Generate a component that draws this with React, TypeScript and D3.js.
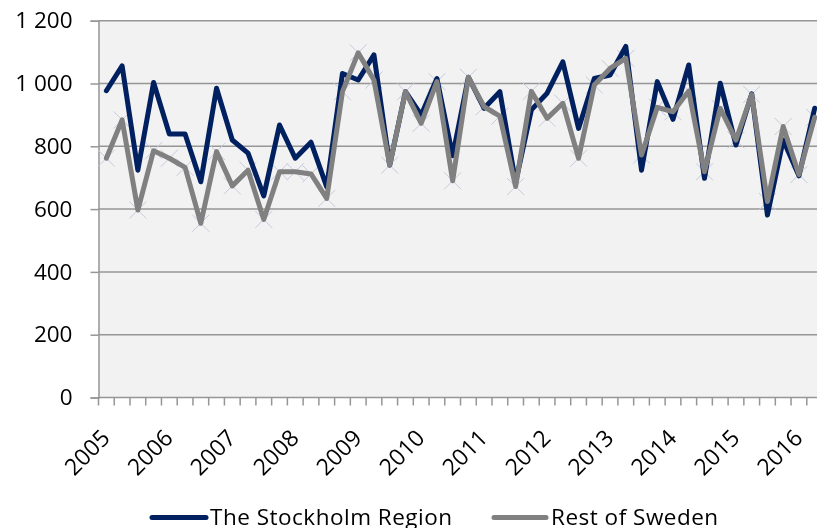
import { useRef, useEffect } from 'react'
import * as d3 from 'd3'

const years = ['2005', '2006', '2007', '2008', '2009', '2010', '2011', '2012', '2013', '2014', '2015', '2016']
const quarters = ['Q1', 'Q2', 'Q3', 'Q4']
const periodCount = 46

const stockholm = [
  977, 1056, 724, 1003, 839, 839, 687, 985, 820, 778, 642, 868,
  762, 813, 671, 1032, 1011, 1091, 740, 974, 900, 1016, 770, 1020,
  921, 974, 685, 916, 969, 1069, 857, 1016, 1027, 1118, 724, 1006,
  886, 1059, 698, 1001, 804, 967, 581, 820, 706, 921,
]
const restOfSweden = [
  762, 884, 597, 786, 762, 733, 555, 783, 674, 724, 567, 719,
  719, 712, 634, 974, 1098, 1011, 740, 974, 873, 1006, 690, 1020,
  926, 896, 672, 975, 889, 937, 762, 995, 1048, 1080, 772, 924,
  910, 976, 719, 921, 820, 965, 624, 863, 710, 892,
]
const yTicks = [0, 200, 400, 600, 800, 1000, 1200]
const seriesNames = ['The Stockholm Region', 'Rest of Sweden']

export default function App() {
  const svgRef = useRef<SVGSVGElement>(null)

  useEffect(() => {
    if (!svgRef.current) return
    const svg = d3.select(svgRef.current)
    svg.selectAll('*').remove()

    const width = 817
    const height = 528
    const left = 98.5
    const top = 20.7
    const bottom = 397.5
    const step = 15.74
    const font = "'Open Sans', sans-serif"
    const fontSize = 22.5

    const periods = d3.range(periodCount).map((i) => `${years[Math.floor(i / 4)]} ${quarters[i % 4]}`)

    const x = d3.scaleBand<string>().domain(periods).range([left, left + step * periodCount]).padding(0)
    const cx = (i: number) => (x(periods[i]) as number) + x.bandwidth() / 2
    const y = d3.scaleLinear().domain([0, 1200]).range([bottom, top])

    svg.attr('width', width).attr('height', height)

    // plot background
    svg.append('rect')
      .attr('x', left).attr('y', top)
      .attr('width', width - left).attr('height', bottom - top)
      .attr('fill', '#f2f2f2')

    // y axis with space as thousands separator
    const fmt = d3.formatLocale({ decimal: ',', thousands: '\u00a0', grouping: [3], currency: ['', ''] }).format(',')
    const yAxis = d3.axisLeft(y).tickValues(yTicks).tickSize(8).tickPadding(18).tickFormat((d) => fmt(d as number))
    svg.append('g')
      .attr('transform', `translate(${left},0)`)
      .call(yAxis)
      .call((g) => g.select('.domain').attr('stroke', '#969696').attr('stroke-width', 1.5))
      .call((g) => g.selectAll('.tick line').attr('stroke', '#969696').attr('stroke-width', 1.5))
      .call((g) => g.selectAll('.tick text').attr('fill', '#000').attr('font-size', fontSize).attr('font-family', font))

    // horizontal gridlines
    svg.append('g')
      .selectAll('line')
      .data(yTicks.slice(1))
      .join('line')
      .attr('x1', left).attr('x2', width)
      .attr('y1', (d) => y(d)).attr('y2', (d) => y(d))
      .attr('stroke', '#969696')
      .attr('stroke-width', 1.5)

    // x axis: ticks between categories
    const boundaries = d3.range(periodCount + 1).map((i) => left + i * x.step())
    svg.append('line')
      .attr('x1', left).attr('x2', width)
      .attr('y1', bottom).attr('y2', bottom)
      .attr('stroke', '#969696').attr('stroke-width', 1.5)
    svg.append('g')
      .selectAll('line')
      .data(boundaries)
      .join('line')
      .attr('x1', (d) => d).attr('x2', (d) => d)
      .attr('y1', bottom).attr('y2', bottom + 8)
      .attr('stroke', '#969696').attr('stroke-width', 1.5)

    svg.append('g')
      .selectAll('text')
      .data(years)
      .join('text')
      .attr('transform', (_, i) => `translate(${cx(i * 4) + 5},${bottom + 42}) rotate(-45)`)
      .attr('text-anchor', 'end')
      .attr('font-size', 23)
      .attr('font-family', font)
      .attr('fill', '#000')
      .text((d) => d)

    // x markers on Rest of Sweden
    const mk = 8.5
    svg.append('g')
      .selectAll('path')
      .data(restOfSweden)
      .join('path')
      .attr('d', (d, i) => {
        const px = cx(i), py = y(d)
        return `M${px - mk},${py - mk}L${px + mk},${py + mk}M${px - mk},${py + mk}L${px + mk},${py - mk}`
      })
      .attr('stroke', '#c9c9de')
      .attr('stroke-width', 1)
      .attr('fill', 'none')

    const line = d3.line<number>().x((_, i) => cx(i)).y((d) => y(d))

    svg.append('path')
      .datum(stockholm)
      .attr('d', line)
      .attr('fill', 'none')
      .attr('stroke', '#002060')
      .attr('stroke-width', 5)
      .attr('stroke-linejoin', 'round')
      .attr('stroke-linecap', 'round')

    svg.append('path')
      .datum(restOfSweden)
      .attr('d', line)
      .attr('fill', 'none')
      .attr('stroke', '#808080')
      .attr('stroke-width', 5)
      .attr('stroke-linejoin', 'round')
      .attr('stroke-linecap', 'round')

    // legend
    const legend = [
      { name: seriesNames[0], color: '#002060', x0: 152, x1: 206, tx: 210 },
      { name: seriesNames[1], color: '#808080', x0: 494, x1: 546, tx: 551 },
    ]
    const lg = svg.append('g')
    legend.forEach((l) => {
      lg.append('line')
        .attr('x1', l.x0).attr('x2', l.x1)
        .attr('y1', 517.5).attr('y2', 517.5)
        .attr('stroke', l.color).attr('stroke-width', 5).attr('stroke-linecap', 'round')
      lg.append('text')
        .attr('x', l.tx).attr('y', 524.5)
        .attr('font-size', fontSize)
        .attr('font-family', font)
        .attr('letter-spacing', 0.5)
        .attr('fill', '#000')
        .text(l.name)
    })
  }, [])

  return (
    <div style={{ position: 'fixed', left: 0, top: 0 }}>
      <svg ref={svgRef} style={{ display: 'block' }} />
    </div>
  )
}
